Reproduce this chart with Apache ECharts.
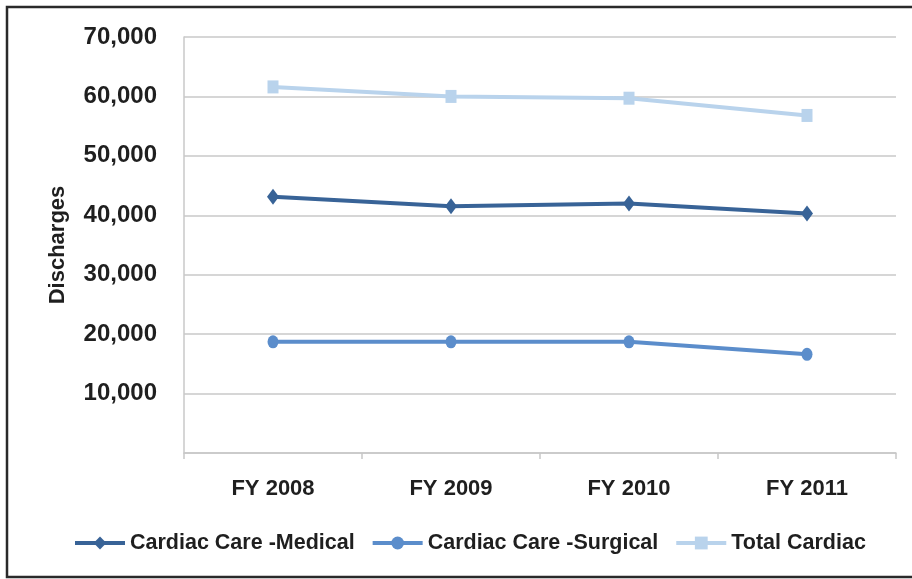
<!DOCTYPE html>
<html>
	<head>
		<meta charset="utf-8">
		<title></title>
		<script src="https://cdn.jsdelivr.net/npm/echarts@6/dist/echarts.min.js"></script>
		<style>
			html, body { margin: 0; padding: 0; background: #fff; }
		</style>
	</head>
	<body>
		<div id="my" style="width: 912px;height:579px;"></div>

		<script>
			var myChart = echarts.init(document.getElementById('my'));

			// data
			var years = ['FY 2008', 'FY 2009', 'FY 2010', 'FY 2011'];
			var medical = [43100, 41500, 42000, 40300];
			var surgical = [18700, 18700, 18700, 16600];
			var total = [61600, 60000, 59700, 56800];

			var font = '"Liberation Sans", Arial, sans-serif';
			var txt = '#1f1f1f';

			var option = {
				animation: false,
				textStyle: { fontFamily: font },
				grid: { left: 184, right: 16, top: 37, bottom: 126 },
				graphic: [{
					type: 'rect',
					shape: { x: 7, y: 7, width: 930, height: 570 },
					style: { fill: 'none', stroke: '#2a2a2a', lineWidth: 2.5 },
					silent: true
				}],
				legend: {
					top: 527,
					left: 68,
					itemWidth: 50,
					itemHeight: 16,
					itemGap: 16,
					lineStyle: { width: 4 },
					textStyle: { fontFamily: font, fontSize: 21.5, fontWeight: 'bold', color: txt },
					data: ['Cardiac Care -Medical', 'Cardiac Care -Surgical', 'Total Cardiac']
				},
				xAxis: {
					type: 'category',
					data: years,
					boundaryGap: true,
					axisLine: { lineStyle: { color: '#c8c8c8', width: 1.5 } },
					axisTick: { show: true, length: 6, lineStyle: { color: '#c8c8c8', width: 1.5 } },
					axisLabel: { margin: 25, fontSize: 22, fontWeight: 'bold', color: txt, fontFamily: font }
				},
				yAxis: {
					type: 'value',
					min: 0,
					max: 70000,
					interval: 10000,
					name: 'Discharges',
					nameLocation: 'middle',
					nameGap: 115,
					nameTextStyle: { fontSize: 22, fontWeight: 'bold', color: txt, fontFamily: font },
					axisLine: { show: true, lineStyle: { color: '#c8c8c8', width: 1.5 } },
					axisTick: { show: false },
					splitLine: { lineStyle: { color: '#c8c8c8', width: 1.5 } },
					axisLabel: {
						margin: 27,
						fontSize: 24,
						fontWeight: 'bold',
						color: txt,
						fontFamily: font,
						formatter: function (v) {
							return v === 0 ? '' : v.toLocaleString('en-US');
						}
					}
				},
				series: [
					{
						name: 'Cardiac Care -Medical',
						type: 'line',
						data: medical,
						symbol: 'diamond',
						symbolSize: [12, 16],
						lineStyle: { width: 4, color: '#386397' },
						itemStyle: { color: '#386397' }
					},
					{
						name: 'Cardiac Care -Surgical',
						type: 'line',
						data: surgical,
						symbol: 'circle',
						symbolSize: [11, 13],
						lineStyle: { width: 4, color: '#5b8dcb' },
						itemStyle: { color: '#5b8dcb' }
					},
					{
						name: 'Total Cardiac',
						type: 'line',
						data: total,
						symbol: 'rect',
						symbolSize: [11, 13],
						lineStyle: { width: 4, color: '#b9d3ec' },
						itemStyle: { color: '#b9d3ec' }
					}
				]
			};

			myChart.setOption(option);
		</script>
	</body>
</html>
